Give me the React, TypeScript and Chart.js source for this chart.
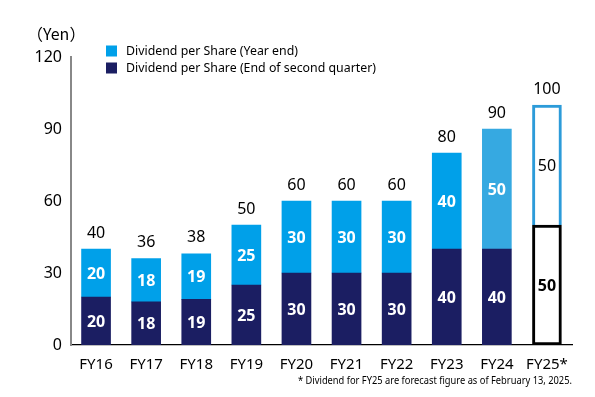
import React, { useEffect, useRef } from "react";
import { Chart, registerables } from "chart.js";

Chart.register(...registerables);

const categories = ["FY16", "FY17", "FY18", "FY19", "FY20", "FY21", "FY22", "FY23", "FY24", "FY25*"];
const secondQuarter = [20, 18, 19, 25, 30, 30, 30, 40, 40, 50];
const yearEnd = [20, 18, 19, 25, 30, 30, 30, 40, 50, 50];
const totals = [40, 36, 38, 50, 60, 60, 60, 80, 90, 100];
const yTicks = [0, 30, 60, 90, 120];
const legendLabels = ["Dividend per Share (Year end)", "Dividend per Share (End of second quarter)"];
const unitLabel = "（Yen）";
const footnote = "* Dividend for FY25 are forecast figure as of February 13, 2025.";

const NAVY = "#1b1e62";
const BLUE = "#00a0e9";
const BLUE24 = "#36a9e1";
const BLUE_BORDER = "#2c9bd9";
const FONT = "'Noto Sans', sans-serif";
const last = categories.length - 1;

const overlay = {
  id: "overlay",
  afterDatasetsDraw(chart: any) {
    const ctx = chart.ctx;
    ctx.save();
    ctx.textAlign = "center";
    ctx.textBaseline = "middle";
    chart.data.datasets.forEach((ds: any, di: number) => {
      const meta = chart.getDatasetMeta(di);
      meta.data.forEach((el: any, i: number) => {
        const cy = (el.y + el.base) / 2;
        if (i === last) {
          ctx.fillStyle = "#000";
          ctx.font = (di === 0 ? "bold " : "") + "16px " + FONT;
        } else {
          ctx.fillStyle = "#fff";
          ctx.font = "bold 16px " + FONT;
        }
        ctx.fillText(String(ds.data[i]), el.x, cy + 1);
      });
    });
    const topMeta = chart.getDatasetMeta(1);
    ctx.fillStyle = "#000";
    ctx.font = "16px " + FONT;
    topMeta.data.forEach((el: any, i: number) => {
      ctx.fillText(String(totals[i]), el.x, el.y - 16);
    });
    // unit label
    ctx.textAlign = "left";
    ctx.font = "16px 'Noto Sans CJK JP', sans-serif";
    ctx.fillText(unitLabel, 27, 34, 60);
    // legend
    const colors = [BLUE, NAVY];
    ctx.font = "12.5px " + FONT;
    legendLabels.forEach((t, k) => {
      const y = 51 + k * 17;
      ctx.fillStyle = colors[k];
      ctx.fillRect(106, y - 5.5, 11, 11);
      ctx.fillStyle = "#000";
      ctx.fillText(t, 126, y, k === 0 ? 172 : 250);
    });
    // footnote
    ctx.textAlign = "right";
    ctx.font = "11px " + FONT;
    ctx.fillText(footnote, 572, 381, 274);
    ctx.restore();
  },
};

export default function App() {
  const ref = useRef<HTMLCanvasElement>(null);
  useEffect(() => {
    document.body.style.margin = "0";
    const chart = new Chart(ref.current as HTMLCanvasElement, {
      type: "bar",
      data: {
        labels: categories,
        datasets: [
          {
            label: legendLabels[1],
            data: secondQuarter,
            backgroundColor: secondQuarter.map((_, i) => (i === last ? "#ffffff" : NAVY)),
            borderColor: "#000",
            borderWidth: secondQuarter.map((_, i) => (i === last ? 3 : 0)),
            borderSkipped: (c: any) => (c.dataIndex === last ? false : "start"),
            barThickness: 29,
          },
          {
            label: legendLabels[0],
            data: yearEnd,
            backgroundColor: yearEnd.map((_, i) => (i === last ? "#ffffff" : i === last - 1 ? BLUE24 : BLUE)),
            borderColor: BLUE_BORDER,
            borderWidth: yearEnd.map((_, i) => (i === last ? 3 : 0)),
            borderSkipped: "start",
            barThickness: 29,
          },
        ],
      },
      options: {
        responsive: false,
        animation: false,
        layout: { padding: { top: 57, right: 23, left: 0, bottom: 0 } },
        plugins: { legend: { display: false }, tooltip: { enabled: false } },
        scales: {
          x: {
            stacked: true,
            grid: { display: false, drawTicks: false },
            border: { display: true, color: "#000", width: 1.2 },
            ticks: { color: "#000", font: { family: FONT, size: 15 }, padding: 11 },
            afterFit: (s: any) => { s.height = 52; },
          },
          y: {
            stacked: true,
            min: 0,
            max: 120,
            afterBuildTicks: (s: any) => { s.ticks = yTicks.map((v) => ({ value: v })); },
            grid: { display: false, drawTicks: false },
            border: { display: true, color: "#888", width: 2 },
            ticks: { color: "#000", font: { family: FONT, size: 16 }, padding: 9 },
            afterFit: (s: any) => { s.width = 71; },
          },
        },
      },
      plugins: [overlay],
    } as any);
    return () => chart.destroy();
  }, []);
  return (
    <div style={{ position: "absolute", left: 0, top: 0, width: 595, height: 397, background: "#fff" }}>
      <canvas ref={ref} width={595} height={397} />
    </div>
  );
}
